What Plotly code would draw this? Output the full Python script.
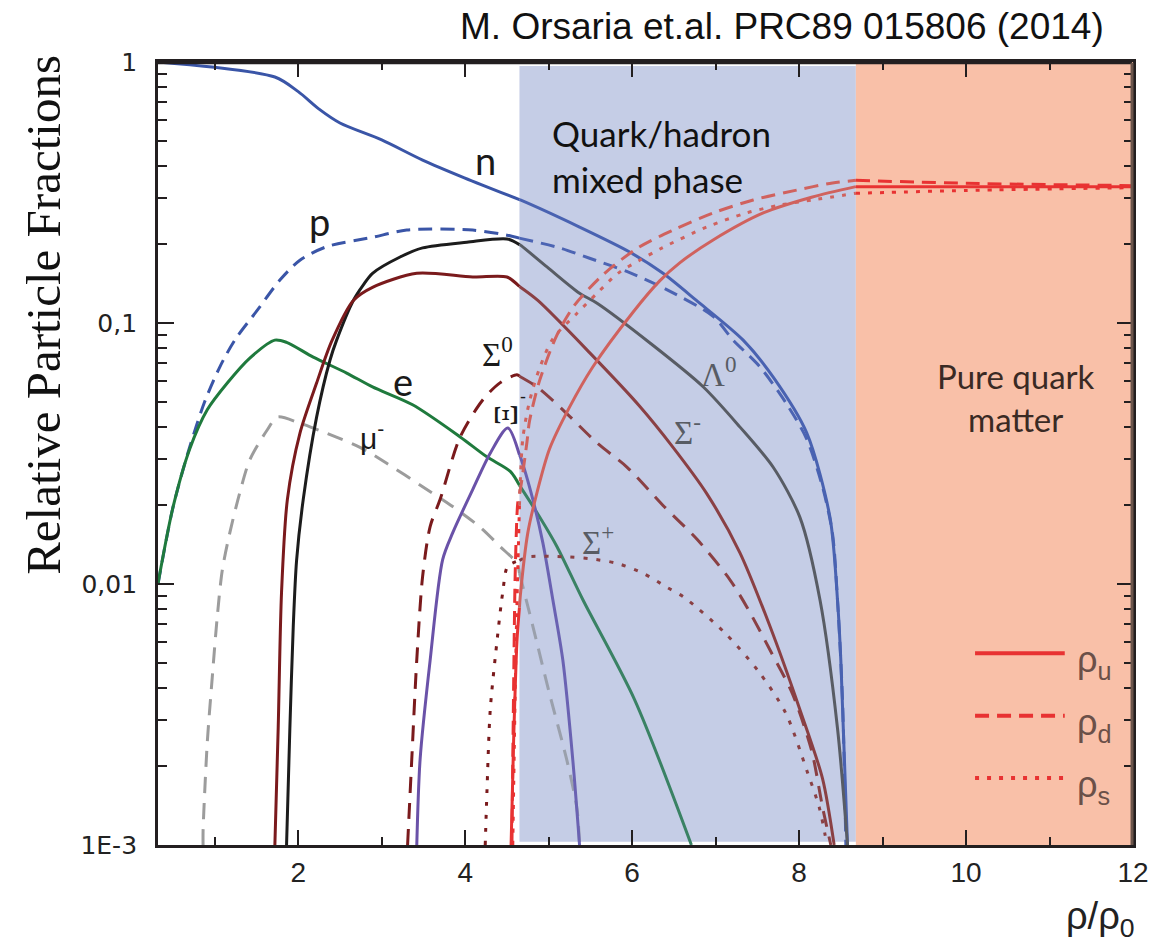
import numpy as np
import plotly.graph_objects as go

# Phase boundaries (rho/rho0)
X_MIX = 4.65   # onset of the quark/hadron mixed phase
X_QM = 8.68    # onset of pure quark matter

# Particle fractions vs rho/rho0
n_x = [0.32, 1.72, 2.00, 2.25, 2.50, 3.00, 3.49, 3.99, 4.66, 5.37, 5.97, 6.37, 6.77, 7.33, 7.69, 8.09, 8.37, 8.46, 8.50, 8.58]
n_y = [1.0, 0.876, 0.77, 0.66, 0.584, 0.503, 0.421, 0.360, 0.296, 0.233, 0.187, 0.155, 0.122, 0.086, 0.062, 0.038, 0.018, 0.0087, 0.0051, 0.001]

p_x = [0.32, 0.50, 0.70, 0.88, 1.06, 1.24, 1.51, 1.78, 2.02, 2.34, 2.89, 3.30, 4.09, 4.50, 4.66, 5.13, 5.49, 5.97, 6.42, 6.97, 7.21, 7.53, 7.85, 8.09, 8.28, 8.40, 8.46, 8.52, 8.56]
p_y = [0.0100, 0.0197, 0.0335, 0.050, 0.0678, 0.086, 0.112, 0.146, 0.174, 0.196, 0.213, 0.227, 0.227, 0.217, 0.211, 0.194, 0.177, 0.156, 0.134, 0.106, 0.086, 0.068, 0.049, 0.036, 0.0236, 0.0156, 0.0087, 0.0036, 0.001]

e_x = [0.32, 0.34, 0.50, 0.70, 0.91, 1.15, 1.42, 1.72, 1.86, 2.18, 2.58, 2.89, 3.37, 3.94, 4.26, 4.54, 4.66, 4.89, 5.10, 5.41, 6.03, 6.71]
e_y = [0.0100, 0.0109, 0.0197, 0.0329, 0.0465, 0.0589, 0.0734, 0.0860, 0.0843, 0.0740, 0.0643, 0.0569, 0.0486, 0.0366, 0.0307, 0.0270, 0.0236, 0.0181, 0.0139, 0.0087, 0.0036, 0.0010]

mu_x = [0.86, 0.86, 0.91, 0.97, 1.03, 1.09, 1.18, 1.30, 1.42, 1.63, 1.75, 2.02, 2.34, 2.74, 3.06, 3.49, 3.85, 4.18, 4.42, 4.62, 4.81, 5.01, 5.22, 5.34, 5.37]
mu_y = [0.0010, 0.00113, 0.00246, 0.00439, 0.0075, 0.0113, 0.0157, 0.0224, 0.0299, 0.0390, 0.0436, 0.0413, 0.0378, 0.0334, 0.0290, 0.0236, 0.0198, 0.0165, 0.0139, 0.0120, 0.0069, 0.0038, 0.0021, 0.00137, 0.0010]

lam_x = [1.86, 1.90, 1.94, 1.98, 2.06, 2.22, 2.38, 2.46, 2.66, 2.78, 2.89, 3.22, 3.49, 4.02, 4.50, 4.66, 4.98, 5.37, 5.58, 6.21, 6.85, 7.29, 7.69, 8.01, 8.25, 8.46, 8.58]
lam_y = [0.001, 0.00282, 0.00683, 0.0123, 0.0211, 0.0436, 0.072, 0.086, 0.122, 0.140, 0.155, 0.179, 0.194, 0.204, 0.210, 0.199, 0.164, 0.130, 0.119, 0.084, 0.057, 0.040, 0.028, 0.018, 0.0087, 0.0028, 0.001]

sigm_x = [1.72, 1.76, 1.80, 1.87, 2.02, 2.22, 2.40, 2.66, 2.89, 3.42, 4.09, 4.50, 4.87, 5.49, 6.09, 6.49, 6.89, 7.29, 7.65, 8.01, 8.28, 8.42]
sigm_y = [0.001, 0.00282, 0.0093, 0.0211, 0.0378, 0.0589, 0.085, 0.122, 0.137, 0.155, 0.150, 0.150, 0.122, 0.077, 0.048, 0.0334, 0.0223, 0.0132, 0.0069, 0.0033, 0.0018, 0.001]

sig0_x = [3.31, 3.36, 3.42, 3.49, 3.58, 3.70, 3.94, 4.21, 4.42, 4.62, 4.86, 5.17, 5.58, 5.94, 6.37, 6.78, 7.17, 7.39, 7.65, 7.92, 8.15, 8.28, 8.38]
sig0_y = [0.00100, 0.00213, 0.00513, 0.0107, 0.0166, 0.0211, 0.0366, 0.0507, 0.0591, 0.0634, 0.0569, 0.0465, 0.0347, 0.0280, 0.0200, 0.0148, 0.0104, 0.0080, 0.0056, 0.0038, 0.0023, 0.0014, 0.0010]

xi_x = [3.42, 3.46, 3.58, 3.73, 3.85, 4.09, 4.30, 4.51, 4.66, 4.81, 4.93, 5.05, 5.17, 5.29, 5.37]
xi_y = [0.00100, 0.00213, 0.0051, 0.0124, 0.0157, 0.0230, 0.0317, 0.0396, 0.0307, 0.0211, 0.0144, 0.0087, 0.0051, 0.0021, 0.0010]

sigp_x = [4.24, 4.26, 4.30, 4.38, 4.45, 4.51, 4.74, 5.22, 5.49, 5.82, 6.13, 6.42, 6.62, 7.11, 7.52, 7.84, 8.10, 8.24, 8.31, 8.33]
sigp_y = [0.00100, 0.00158, 0.00329, 0.0060, 0.0093, 0.0117, 0.0127, 0.0127, 0.0125, 0.0120, 0.0110, 0.0097, 0.0089, 0.0065, 0.0046, 0.0032, 0.0019, 0.0014, 0.0011, 0.0010]

# Quark densities
u_x = [4.55, 4.58, 4.62, 4.66, 4.75, 4.86, 5.01, 5.25, 5.53, 6.01, 6.33, 6.57, 6.97, 7.57, 8.16, 8.68, 10.0, 12.0]
u_y = [0.001, 0.0025, 0.0060, 0.0090, 0.0157, 0.0224, 0.0329, 0.0476, 0.068, 0.110, 0.145, 0.170, 0.208, 0.264, 0.304, 0.333, 0.333, 0.333]

d_x = [4.56, 4.58, 4.60, 4.63, 4.67, 4.74, 4.77, 4.89, 5.10, 5.31, 5.67, 6.08, 6.49, 6.97, 7.45, 7.97, 8.40, 8.68, 10.0, 12.0]
d_y = [0.001, 0.004, 0.0113, 0.0205, 0.024, 0.035, 0.042, 0.060, 0.090, 0.117, 0.155, 0.195, 0.227, 0.264, 0.296, 0.323, 0.344, 0.352, 0.343, 0.336]

s_x = [4.57, 4.61, 4.65, 4.69, 4.77, 4.89, 5.05, 5.34, 5.58, 5.83, 6.09, 6.36, 6.89, 7.37, 7.77, 8.16, 8.68, 10.0, 12.0]
s_y = [0.001, 0.006, 0.020, 0.036, 0.050, 0.067, 0.087, 0.109, 0.130, 0.155, 0.174, 0.194, 0.233, 0.264, 0.283, 0.296, 0.314, 0.322, 0.330]

x_ticks = [2, 4, 6, 8, 10, 12]
x_minor = [1, 3, 5, 7, 9, 11]
y_ticks = [0.001, 0.01, 0.1, 1]
y_ticktext = ["1E-3", "0,01", "0,1", "1"]
y_minor = [k * 10.0 ** e for e in (-3, -2, -1) for k in range(2, 10)]

RED = "#e83232"
SALMON = "#d0625e"
BLUE_BG = "#c5cde6"
ORANGE_BG = "#f9c0a8"

# (x, y, color in hadronic / mixed / quark phase, dash)
series = [
    (mu_x, mu_y, ("#9c9c9c", "#9aa0ac", "#9aa0ac"), "16px,10px"),
    (p_x, p_y, ("#3a55a7", "#4c64b3", "#4c64b3"), "14px,8px"),
    (n_x, n_y, ("#3a55a7", "#4962b1", "#4962b1"), "solid"),
    (e_x, e_y, ("#1f7a3d", "#3a8264", "#3a8264"), "solid"),
    (lam_x, lam_y, ("#1c1c1c", "#585c64", "#585c64"), "solid"),
    (sigm_x, sigm_y, ("#7a1a1c", "#8a4044", "#8a4044"), "solid"),
    (sig0_x, sig0_y, ("#7a1a1c", "#8a4044", "#8a4044"), "16px,10px"),
    (xi_x, xi_y, ("#6a52a8", "#6a62b2", "#6a62b2"), "solid"),
    (sigp_x, sigp_y, ("#7a1a1c", "#8a4044", "#8a4044"), "4px,9px"),
    (u_x, u_y, (RED, SALMON, RED), "solid"),
    (d_x, d_y, (RED, SALMON, RED), "14px,8px"),
    (s_x, s_y, (RED, SALMON, RED), "4px,8px"),
]


def phase_segments(xs, ys, cuts):
    """Split a curve at the phase boundaries, interpolating in log(y)."""
    xs = np.asarray(xs, float)
    ly = np.log10(np.asarray(ys, float))
    edges = [-np.inf] + list(cuts) + [np.inf]
    segs = []
    for a, b in zip(edges[:-1], edges[1:]):
        m = (xs > a) & (xs < b)
        sx = list(xs[m])
        sy = list(ly[m])
        if np.isfinite(a) and xs[0] < a < xs[-1]:
            sx.insert(0, a)
            sy.insert(0, np.interp(a, xs, ly))
        if np.isfinite(b) and xs[0] < b < xs[-1]:
            sx.append(b)
            sy.append(np.interp(b, xs, ly))
        segs.append((sx, list(10 ** np.array(sy)) if sy else []))
    return segs


fig = go.Figure()

for xs, ys, colors, dash in series:
    for (sx, sy), col in zip(phase_segments(xs, ys, [X_MIX, X_QM]), colors):
        if len(sx) < 2:
            continue
        fig.add_trace(go.Scatter(
            x=sx, y=sy, mode="lines",
            line=dict(color=col, width=3, dash=dash, shape="spline", smoothing=0.8),
            showlegend=False, hoverinfo="skip",
        ))

# phase regions
fig.add_shape(type="rect", xref="x", yref="paper", x0=X_MIX, x1=X_QM, y0=0.004, y1=0.995,
              fillcolor=BLUE_BG, line_width=0, layer="below")
fig.add_shape(type="rect", xref="x", yref="paper", x0=X_QM, x1=12.08, y0=0.0, y1=1.0,
              fillcolor=ORANGE_BG, line_width=0, layer="below")

# top and right frame lines
fig.add_shape(type="line", xref="paper", yref="paper", x0=0.0, x1=0.999, y0=0.999, y1=0.999,
              line=dict(color="#231f20", width=3), layer="above")
fig.add_shape(type="line", xref="paper", yref="paper", x0=0.999, x1=0.999, y0=0.0, y1=0.999,
              line=dict(color="#6b554b", width=3), layer="above")

axis_col = "#231f20"

fig.update_layout(
    width=1151, height=946,
    margin=dict(l=158, r=18, t=62, b=101, autoexpand=False),
    plot_bgcolor="white", paper_bgcolor="white",
    xaxis=dict(
        range=[0.32, 12], showgrid=False, zeroline=False, automargin=False,
        showline=True, linecolor=axis_col, linewidth=3, mirror="ticks",
        ticks="inside", ticklen=15, tickwidth=2, tickcolor=axis_col,
        tickmode="array", tickvals=x_ticks,
        minor=dict(tickvals=x_minor, ticks="inside", ticklen=8, tickwidth=2, tickcolor=axis_col),
        tickfont=dict(family="Liberation Sans Narrow, Arial Narrow, sans-serif", size=28, color="#222"),
    ),
    yaxis=dict(
        type="log", range=[-3, 0], showgrid=False, zeroline=False, automargin=False,
        showline=True, linecolor=axis_col, linewidth=3, mirror="ticks",
        ticks="inside", ticklen=16, tickwidth=2, tickcolor=axis_col,
        tickmode="array", tickvals=y_ticks, ticktext=[t + "\u00a0\u2009" for t in y_ticktext],
        minor=dict(tickvals=y_minor, ticks="inside", ticklen=9, tickwidth=2, tickcolor=axis_col),
        tickfont=dict(family="DejaVu Sans, Verdana, sans-serif", size=25, color="#222"),
    ),
)

SANS = "Liberation Sans, Arial, sans-serif"
NARROW = "Liberation Sans Narrow, Arial Narrow, sans-serif"
SERIF = "Liberation Serif, Times New Roman, serif"
CAL = "Lato, Carlito, sans-serif"


def label(x, ly, text, font, size, color, **kw):
    fig.add_annotation(x=x, y=ly, xref="x", yref="y", text=text, showarrow=False,
                       font=dict(family=font, size=size, color=color), **kw)


# curve labels (y given as log10 of the fraction)
label(4.24, -0.375, "n", CAL, 38, "#1a1a1a")
label(2.26, -0.609, "p", CAL, 38, "#1a1a1a")
label(3.25, -1.222, "e", CAL, 38, "#1a1a1a")
label(2.88, -1.433, "μ<sup>-</sup>", SANS, 30, "#1a1a1a")
label(4.39, -1.111, "Σ<sup>0</sup>", SERIF, 33, "#1a1a1a")
label(4.49, -1.352, "Ξ", SERIF, 34, "#1a1a1a", textangle=-90)
label(4.69, -1.285, "-", SANS, 18, "#1a1a1a")
label(7.03, -1.188, "Λ<sup>0</sup>", SERIF, 33, "#585c64")
label(6.66, -1.41, "Σ<sup>-</sup>", SERIF, 33, "#585c64")
label(5.59, -1.831, "Σ<sup>+</sup>", SERIF, 33, "#585c64")
label(5.01, -0.184, "Quark/hadron<br>mixed phase", CAL, 35, "#111111",
      xanchor="left", yanchor="top", align="left")
label(10.6, -1.287, "Pure quark<br>matter", CAL, 33, "#3a2a24", align="center")

# quark legend
legend_items = [("ρ<sub>u</sub>", "solid", 0.245, 0.234),
                ("ρ<sub>d</sub>", "14px,8px", 0.165, 0.153),
                ("ρ<sub>s</sub>", "4px,8px", 0.0855, 0.074)]
for txt, dash, ly, ty in legend_items:
    fig.add_shape(type="line", xref="paper", yref="paper", x0=0.838, x1=0.930, y0=ly, y1=ly,
                  line=dict(color=RED, width=4, dash=dash))
    fig.add_annotation(xref="paper", yref="paper", x=0.9405, y=ty, text=txt, showarrow=False,
                       xanchor="left", yanchor="middle",
                       font=dict(family=NARROW, size=36, color="#6b5048"))

# titles
fig.add_annotation(xref="paper", yref="paper", x=0.972, y=1.045, text="M. Orsaria et.al. PRC89 015806 (2014)",
                   showarrow=False, xanchor="right", yanchor="middle",
                   font=dict(family=SANS, size=37, color="#111"))
fig.add_annotation(xref="paper", yref="paper", x=-0.117, y=0.677, text="Relative Particle Fractions",
                   showarrow=False, textangle=-90, xanchor="center", yanchor="middle",
                   font=dict(family=SERIF, size=49, color="#111"))
fig.add_annotation(xref="paper", yref="paper", x=0.967, y=-0.094, text="ρ/ρ<sub>0</sub>",
                   showarrow=False, xanchor="center", yanchor="middle",
                   font=dict(family=NARROW, size=38, color="#222"))

fig.write_html("out.html")
